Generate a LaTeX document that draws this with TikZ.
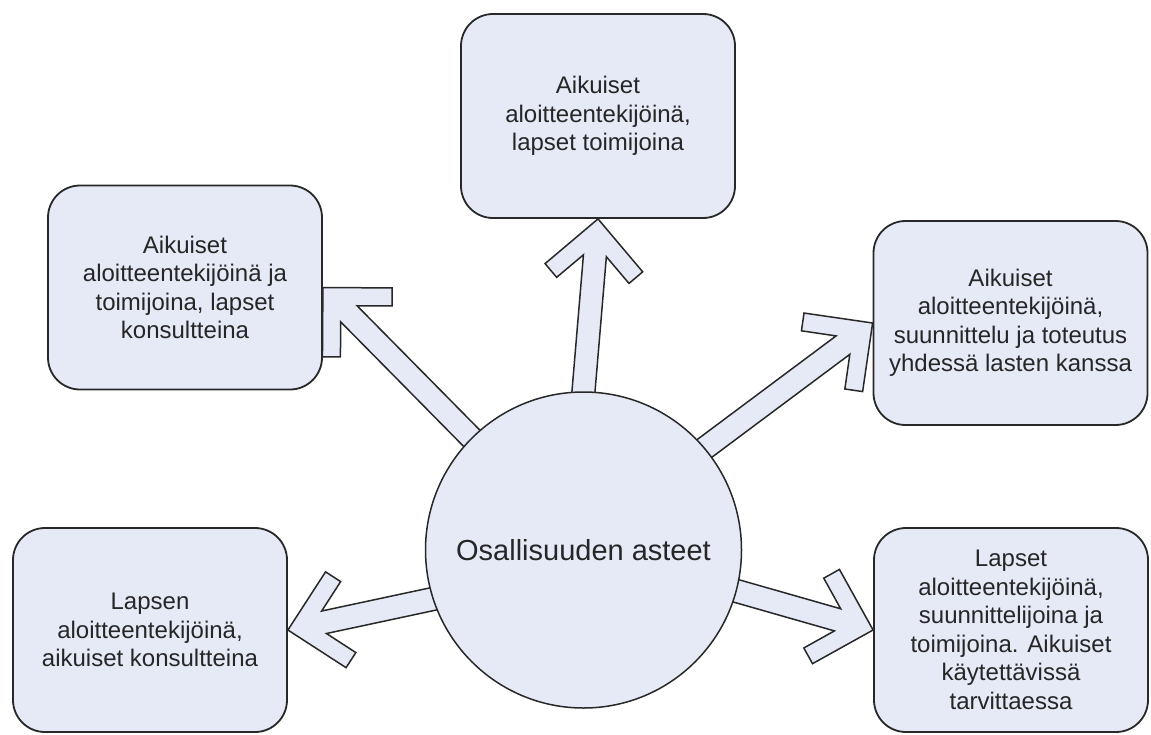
\documentclass[tikz,border=0pt]{standalone}
\usepackage{fontspec}
\setmainfont{Liberation Sans}
\usetikzlibrary{backgrounds,calc}
\definecolor{boxfill}{RGB}{229,234,246}
\definecolor{edge}{RGB}{40,40,40}
\tikzset{
  stagebox/.style={rectangle, draw=edge, line width=1.8pt, fill=boxfill, rounded corners=32pt,
    minimum width=274pt, minimum height=204pt, align=center,
    font=\fontsize{24}{28.5}\selectfont, text=black!85, inner sep=0pt},
  hub/.style={circle, draw=edge, line width=1.5pt, fill=boxfill, minimum size=316pt,
    inner sep=0pt, font=\fontsize{29}{34}\selectfont, text=black!85},
  arrowbody/.style={draw=edge, line width=1.5pt, fill=boxfill, line join=miter},
}
\newcommand\fatarrow[2]{%
  \pgfmathanglebetweenpoints{\pgfpointanchor{#1}{center}}{\pgfpointanchor{#2}{center}}%
  \edef\farang{\pgfmathresult}%
  \begin{scope}[shift={(#2)}, rotate=\farang, x=1pt, y=1pt]
    \path[arrowbody] let \p1=(#1), \p2=(#2), \n1={veclen(\x1-\x2,\y1-\y2)+8} in
      (0,0) -- (-49,49) -- (-61.7,36.3) -- (-37,11.5) -- (-\n1,11.5) -- (-\n1,-11.5)
      -- (-37,-11.5) -- (-61.7,-36.3) -- (-49,-49) -- cycle;
  \end{scope}}
\begin{document}
\begin{tikzpicture}[x=1pt,y=-1pt]
\useasboundingbox (0,0) rectangle (1151,734);
\node[stagebox] (top) at (598,116) {Aikuiset\\aloitteentekijöinä,\\lapset toimijoina};
\node[stagebox] (ul) at (185,287.5) {Aikuiset\\aloitteentekijöinä ja\\toimijoina, lapset\\konsultteina};
\node[stagebox] (ur) at (1010.5,323) {Aikuiset\\aloitteentekijöinä,\\suunnittelu ja toteutus\\yhdessä lasten kanssa};
\node[stagebox] (ll) at (150,630) {Lapsen\\aloitteentekijöinä,\\aikuiset konsultteina};
\node[stagebox] (lr) at (1011,630) {Lapset\\aloitteentekijöinä,\\suunnittelijoina ja\\toimijoina. Aikuiset\\käytettävissä\\tarvittaessa};
\node[hub] (c) at (583.5,550) {Osallisuuden asteet};
\coordinate (t1) at (c.90);
\coordinate (t2) at (c.135);
\coordinate (t3) at (c.40);
\coordinate (t4) at (c.198);
\coordinate (t5) at (c.345.5);
\coordinate (h1) at (top.south);
\coordinate (h2) at (ul.east);
\coordinate (h3) at (ur.west);
\coordinate (h4) at (ll.east);
\coordinate (h5) at (lr.west);
\begin{scope}[on background layer]
\fatarrow{t1}{h1}
\fatarrow{t2}{h2}
\fatarrow{t3}{h3}
\fatarrow{t4}{h4}
\fatarrow{t5}{h5}
\end{scope}
\end{tikzpicture}
\end{document}
